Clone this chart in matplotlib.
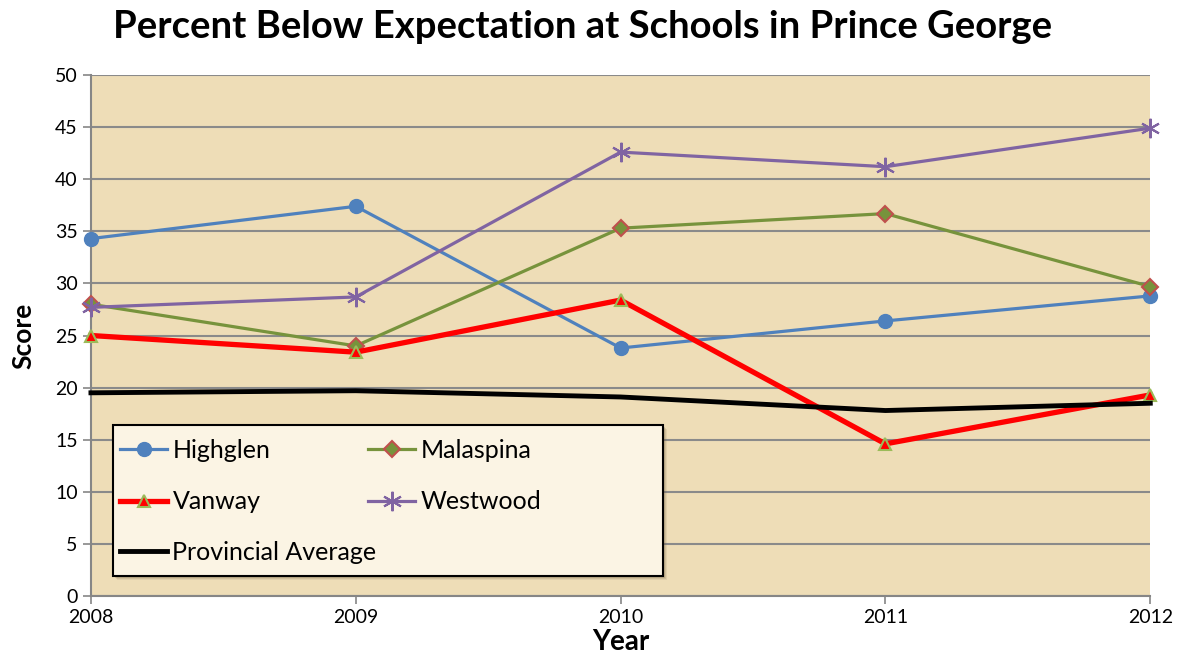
import matplotlib
matplotlib.use("Agg")
import matplotlib.pyplot as plt
from matplotlib.patches import Rectangle

plt.rcParams['font.family'] = ['Lato', 'DejaVu Sans']

# Daten
years = [2008, 2009, 2010, 2011, 2012]
highglen = [34.3, 37.4, 23.8, 26.4, 28.8]
malaspina = [28.0, 24.0, 35.3, 36.7, 29.7]
vanway = [25.0, 23.4, 28.4, 14.6, 19.3]
westwood = [27.7, 28.7, 42.6, 41.2, 44.9]
provincial = [19.5, 19.7, 19.1, 17.8, 18.5]

fig = plt.figure(figsize=(11.81, 6.62), dpi=100)
ax = fig.add_axes([0.077, 0.0997, 0.897, 0.787])
ax.set_facecolor('#EEDDB7')

h1, = ax.plot(years, highglen, color='#4F81BD', lw=2.3, marker='o', ms=10,
              mfc='#4F81BD', mec='#4F81BD', label='Highglen', clip_on=False, zorder=3)
h2, = ax.plot(years, malaspina, color='#77933C', lw=2.3, marker='D', ms=8,
              mfc='#77933C', mec='#C0504D', mew=1.5, label='Malaspina', clip_on=False, zorder=3)
h3, = ax.plot(years, vanway, color='#FF0000', lw=3.8, marker='^', ms=9,
              mfc='#FF0000', mec='#9BBB59', mew=1.5, label='Vanway', clip_on=False, zorder=3)
h4, = ax.plot(years, westwood, color='#8064A2', lw=2.3, marker=(6, 2, 0), ms=14,
              mec='#8064A2', mew=1.5, label='Westwood', clip_on=False, zorder=3)
h5, = ax.plot(years, provincial, color='black', lw=3.5, label='Provincial Average',
              clip_on=False, zorder=3)

ax.set_xlim(2008, 2012)
ax.set_ylim(0, 50)
ax.set_xticks(years)
ax.set_yticks(range(0, 51, 5))
ax.tick_params(labelsize=14, color='#868686', length=6, width=1.2)
ax.grid(axis='y', color='#8A8A8A', lw=1.5)
ax.set_axisbelow(True)
for s in ['top', 'right']:
    ax.spines[s].set_visible(False)
for s in ['left', 'bottom']:
    ax.spines[s].set_color('#868686')
    ax.spines[s].set_linewidth(1.5)

ax.set_xlabel('Year', fontsize=20, fontweight='bold', labelpad=2)
ax.set_ylabel('Score', fontsize=19, fontweight='bold', labelpad=14)
fig.suptitle('Percent Below Expectation at Schools in Prince George',
             fontsize=27.5, fontweight='bold', x=0.493, y=0.985)

# Legendenrahmen mit Schatten
bx, by, bw, bh = 0.0208, 0.0384, 0.519, 0.290
for i, a in enumerate([0.10, 0.14, 0.20]):
    d = 0.004 - i * 0.001
    ax.add_patch(Rectangle((bx + d, by - d * 1.9), bw, bh, transform=ax.transAxes,
                           facecolor='#6E5A3A', edgecolor='none', alpha=a, zorder=4))
ax.add_patch(Rectangle((bx, by), bw, bh, transform=ax.transAxes, facecolor='#FBF4E4',
                       edgecolor='black', lw=1.5, zorder=4.5))

leg = ax.legend(handles=[h1, h3, h2, h4], ncol=2, loc='upper left',
                bbox_to_anchor=(0.0274, 0.302), fontsize=18, frameon=False,
                handlelength=1.9, handletextpad=0.2, labelspacing=1.15,
                borderpad=0, borderaxespad=0, columnspacing=3.9)
leg.set_zorder(5)
ax.add_artist(leg)
leg2 = ax.legend(handles=[h5], loc='upper left', bbox_to_anchor=(0.0274, 0.106),
                 fontsize=18, frameon=False, handlelength=1.9, handletextpad=0.2,
                 borderpad=0, borderaxespad=0)
leg2.set_zorder(5)

fig.savefig('out.png', dpi=100)
